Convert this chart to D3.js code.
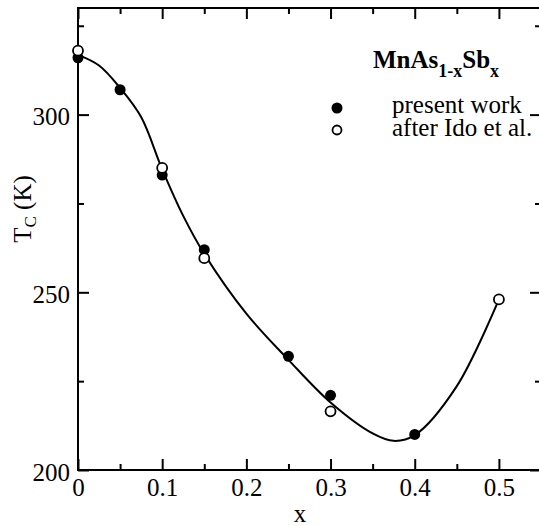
<!DOCTYPE html>
<html>
<head>
<meta charset="utf-8">
<script src="https://cdn.jsdelivr.net/npm/d3@7"></script>
<style>
  body { margin: 0; background: #fff; }
  svg { display: block; font-family: "Liberation Serif", "DejaVu Serif", serif; }
  svg text { font-family: "Liberation Serif", "DejaVu Serif", serif; }
</style>
</head>
<body>
<div id="chart"></div>
<script>
// 本工作测量值 (x, Tc)
const presentX = [0, 0.05, 0.1, 0.15, 0.25, 0.3, 0.4]
const presentTc = [316, 307, 283, 262, 232, 221, 210]
// Ido 等人数据
const idoX = [0, 0.1, 0.15, 0.3, 0.5]
const idoTc = [318, 285, 259.6, 216.5, 248]
// 拟合曲线
const fitX = [0, 0.025, 0.05, 0.075, 0.1, 0.125, 0.15, 0.2, 0.25, 0.3, 0.35, 0.375, 0.4, 0.45, 0.5]
const fitTc = [316.8, 313.8, 307.5, 299.3, 284.6, 271.5, 260.8, 244, 231, 219, 210.3, 208.2, 209.8, 223.6, 248]
// 刻度
const xMajor = [0, 0.1, 0.2, 0.3, 0.4, 0.5]
const xMinor = [0.05, 0.15, 0.25, 0.35, 0.45]
const yMajor = [200, 250, 300]
const yMinor = [225, 275, 325]

const width = 539
const height = 526
const margin = { top: 8, left: 78 }
const plotW = 463
const plotH = 462

const svg = d3.select('#chart')
  .append('svg')
  .attr('width', width)
  .attr('height', height)

const x = d3.scaleLinear().domain([0, 0.55]).range([margin.left, margin.left + plotW])
const y = d3.scaleLinear().domain([200, 330]).range([margin.top + plotH, margin.top])

const fontSize = 25

// 坐标轴样式
function styleAxis(g) {
  g.attr('font-family', null).attr('font-size', null)
  g.select('.domain').remove()
  g.selectAll('line').attr('stroke', '#000').attr('stroke-width', 2)
  g.selectAll('text').attr('fill', '#000').style('font-size', fontSize + 'px')
}

// 下轴（主刻度 + 标签）
svg.append('g')
  .attr('transform', `translate(0, ${y(200)})`)
  .call(d3.axisBottom(x).tickValues(xMajor).tickSize(-11).tickPadding(8).tickFormat(d => d === 0 ? '0' : d3.format('.1f')(d)))
  .call(styleAxis)
svg.append('g')
  .attr('transform', `translate(0, ${y(200)})`)
  .call(d3.axisBottom(x).tickValues(xMinor).tickSize(-6).tickFormat(''))
  .call(styleAxis)
// 上轴
svg.append('g')
  .attr('transform', `translate(0, ${y(330)})`)
  .call(d3.axisTop(x).tickValues(xMajor).tickSize(-11).tickFormat(''))
  .call(styleAxis)
svg.append('g')
  .attr('transform', `translate(0, ${y(330)})`)
  .call(d3.axisTop(x).tickValues(xMinor).tickSize(-6).tickFormat(''))
  .call(styleAxis)
// 左轴
svg.append('g')
  .attr('transform', `translate(${x(0)}, 0)`)
  .call(d3.axisLeft(y).tickValues(yMajor).tickSize(-11).tickPadding(8))
  .call(styleAxis)
  .call(g => g.selectAll('text').attr('dy', '0.4em'))
svg.append('g')
  .attr('transform', `translate(${x(0)}, 0)`)
  .call(d3.axisLeft(y).tickValues(yMinor).tickSize(-6).tickFormat(''))
  .call(styleAxis)
// 右轴
svg.append('g')
  .attr('transform', `translate(${x(0.55)}, 0)`)
  .call(d3.axisRight(y).tickValues(yMajor).tickSize(-11).tickFormat(''))
  .call(styleAxis)
svg.append('g')
  .attr('transform', `translate(${x(0.55)}, 0)`)
  .call(d3.axisRight(y).tickValues(yMinor).tickSize(-6).tickFormat(''))
  .call(styleAxis)

// 边框
svg.append('rect')
  .attr('x', x(0))
  .attr('y', y(330))
  .attr('width', x(0.55) - x(0))
  .attr('height', y(200) - y(330))
  .attr('fill', 'none')
  .attr('stroke', '#000')
  .attr('stroke-width', 2)

// 拟合曲线
const fitData = fitX.map((d, i) => ({ x: d, t: fitTc[i] }))
const line = d3.line()
  .x(d => x(d.x))
  .y(d => y(d.t))
  .curve(d3.curveCatmullRom.alpha(0.5))
svg.append('path')
  .datum(fitData)
  .attr('d', line)
  .attr('fill', 'none')
  .attr('stroke', '#000')
  .attr('stroke-width', 2)

// 数据点
svg.append('g')
  .selectAll('circle')
  .data(presentX.map((d, i) => ({ x: d, t: presentTc[i] })))
  .enter()
  .append('circle')
  .attr('cx', d => x(d.x))
  .attr('cy', d => y(d.t))
  .attr('r', 5.5)
  .attr('fill', '#000')
svg.append('g')
  .selectAll('circle')
  .data(idoX.map((d, i) => ({ x: d, t: idoTc[i] })))
  .enter()
  .append('circle')
  .attr('cx', d => x(d.x))
  .attr('cy', d => y(d.t))
  .attr('r', 5)
  .attr('fill', '#fff')
  .attr('stroke', '#000')
  .attr('stroke-width', 1.8)

// 轴标题
svg.append('text')
  .attr('x', 300)
  .attr('y', 522)
  .attr('text-anchor', 'middle')
  .style('font-size', fontSize + 'px')
  .text('x')
const yTitle = svg.append('text')
  .attr('transform', 'translate(31, 209) rotate(-90)')
  .attr('text-anchor', 'middle')
  .style('font-size', fontSize + 'px')
yTitle.append('tspan').text('T')
yTitle.append('tspan').attr('dy', 5).style('font-size', '17px').text('C')
yTitle.append('tspan').attr('dy', -5).text(' (K)')

// 图例标题
const title = svg.append('text')
  .attr('x', 373)
  .attr('y', 68)
  .style('font-size', fontSize + 'px')
  .style('font-weight', 'bold')
title.append('tspan').text('MnAs')
title.append('tspan').attr('dy', 9).style('font-size', '18px').text('1-x')
title.append('tspan').attr('dy', -9).text('Sb')
title.append('tspan').attr('dy', 9).style('font-size', '18px').text('x')

// 图例
const legend = svg.append('g')
legend.append('circle').attr('cx', 337).attr('cy', 108).attr('r', 5.5).attr('fill', '#000')
legend.append('circle').attr('cx', 337).attr('cy', 130).attr('r', 4.5)
  .attr('fill', '#fff').attr('stroke', '#000').attr('stroke-width', 1.8)
legend.append('text').attr('x', 392).attr('y', 113).style('font-size', fontSize + 'px').text('present work')
legend.append('text').attr('x', 392).attr('y', 136).style('font-size', fontSize + 'px').text('after Ido et al.')
</script>
</body>
</html>
